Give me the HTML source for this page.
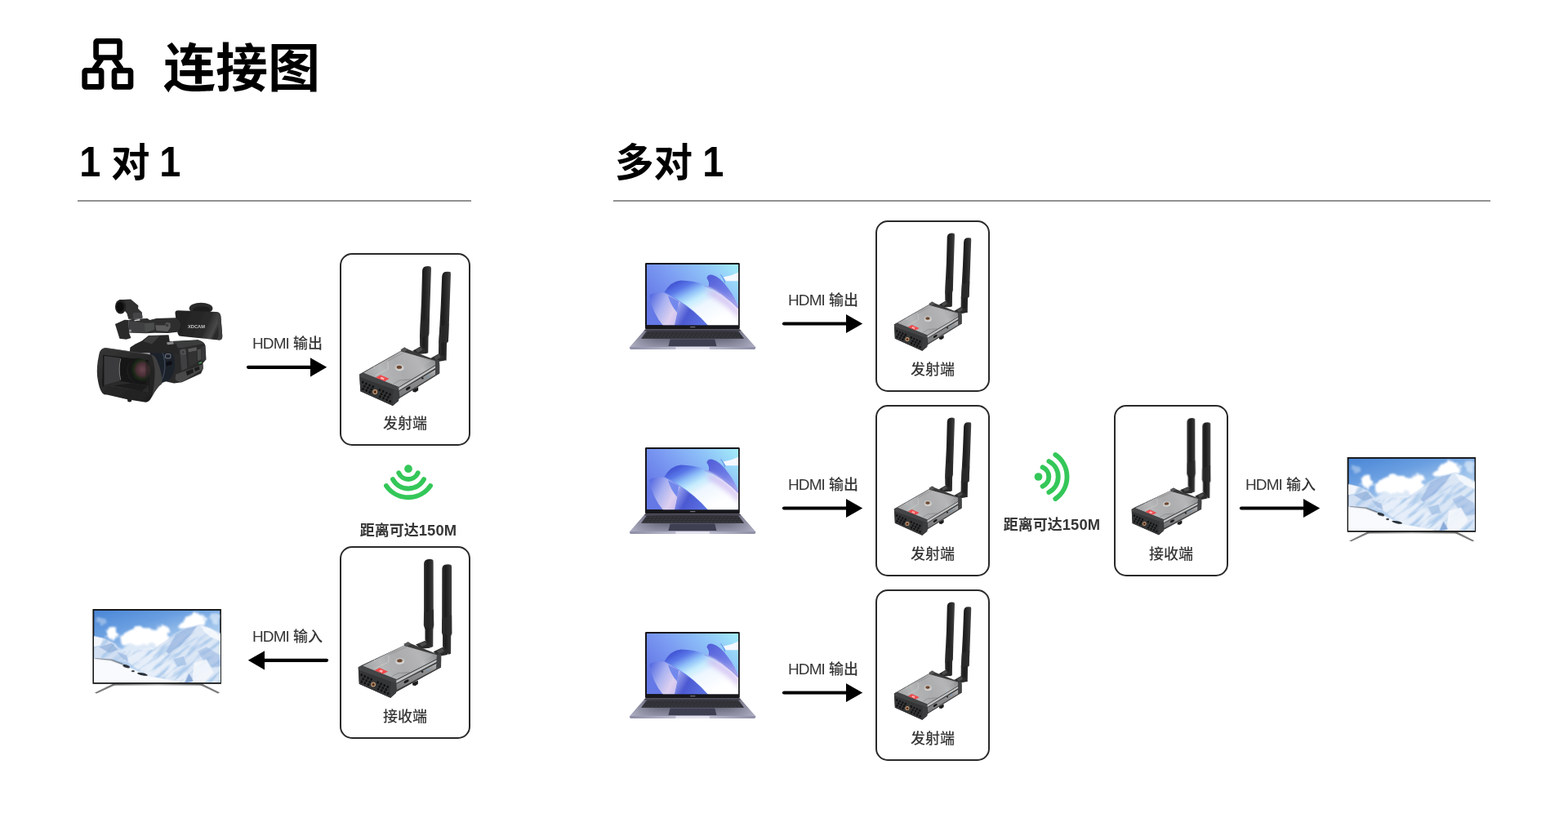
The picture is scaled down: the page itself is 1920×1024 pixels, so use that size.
<!DOCTYPE html>
<html lang="zh-CN">
<head>
<meta charset="utf-8">
<title>连接图</title>
<style>
html,body{margin:0;padding:0;background:#fff;}
body{width:1920px;height:1024px;position:relative;overflow:hidden;font-family:"Liberation Sans","Noto Sans CJK SC",sans-serif;color:#000;}
.abs{position:absolute;white-space:nowrap;line-height:1;will-change:transform;}
.lbl u{text-decoration:none;font-size:19px;letter-spacing:-.9px;}
.title{left:200px;top:52px;font-size:64px;font-weight:700;}
.h2{font-size:47.5px;font-weight:700;top:172px;}
.h2 b{font-size:52px;font-weight:700;display:inline-block;text-align:center;width:27px;transform:scaleX(.9);}
.h2 i{display:inline-block;width:11px;}
.rule{position:absolute;height:2px;background:#919191;top:245px;}
.box{position:absolute;box-sizing:border-box;border:2px solid #2a2a2a;border-radius:15px;background:#fff;}
.lbl{font-size:18px;color:#363636;text-align:center;font-weight:500;}
.dist{font-size:18px;font-weight:700;color:#363636;text-align:center;}
.dist u{text-decoration:none;font-size:18.4px;letter-spacing:.1px;}
svg{position:absolute;overflow:visible;}
</style>
</head>
<body>
<!-- header -->
<svg id="ico" style="left:100px;top:46px" width="64" height="64" viewBox="0 0 64 64">
  <g fill="none" stroke="#000" stroke-width="6.7" stroke-linejoin="round">
    <rect x="17.6" y="4.4" width="28.9" height="20.1" rx="1.2"/>
    <rect x="3.7" y="40.4" width="20.4" height="20" rx="1.2"/>
    <rect x="40" y="40.4" width="20" height="20" rx="1.2"/>
    <path d="M24.3 26 L15.5 38.5 M39.7 26 L48.5 38.5"/>
  </g>
</svg>
<div class="abs title">连接图</div>

<div class="abs h2" style="left:96px"><b>1</b><i style="width:13px"> </i>对<i style="width:10px"> </i><b>1</b></div>
<div class="rule" style="left:95px;width:482px"></div>
<div class="abs h2" style="left:753px">多对<i> </i><b>1</b></div>
<div class="rule" style="left:751px;width:1074px"></div>

<!-- boxes -->
<div class="box" style="left:416px;top:310px;width:160px;height:236px"></div>
<div class="box" style="left:416px;top:669px;width:160px;height:236px"></div>
<div class="box" style="left:1072px;top:270px;width:140px;height:210px"></div>
<div class="box" style="left:1072px;top:496px;width:140px;height:210px"></div>
<div class="box" style="left:1072px;top:722px;width:140px;height:210px"></div>
<div class="box" style="left:1364px;top:496px;width:140px;height:210px"></div>

<!-- labels -->
<div class="abs lbl" style="left:416px;width:160px;top:510px">发射端</div>
<div class="abs lbl" style="left:416px;width:160px;top:869px">接收端</div>
<div class="abs lbl" style="left:1072px;width:140px;top:444px">发射端</div>
<div class="abs lbl" style="left:1072px;width:140px;top:670px">发射端</div>
<div class="abs lbl" style="left:1072px;width:140px;top:896px">发射端</div>
<div class="abs lbl" style="left:1364px;width:140px;top:670px">接收端</div>

<div class="abs lbl" style="left:302px;width:100px;top:411px"><u>HDMI</u> 输出</div>
<div class="abs lbl" style="left:302px;width:100px;top:770px"><u>HDMI</u> 输入</div>
<div class="abs lbl" style="left:958px;width:100px;top:358px"><u>HDMI</u> 输出</div>
<div class="abs lbl" style="left:958px;width:100px;top:584px"><u>HDMI</u> 输出</div>
<div class="abs lbl" style="left:958px;width:100px;top:810px"><u>HDMI</u> 输出</div>
<div class="abs lbl" style="left:1518px;width:100px;top:584px"><u>HDMI</u> 输入</div>

<div class="abs dist" style="left:420px;width:160px;top:641px">距离可达<u>150M</u></div>
<div class="abs dist" style="left:1208px;width:160px;top:634px">距离可达<u>150M</u></div>

<!-- graphics layer -->
<svg id="gfx" style="left:0;top:0" width="1920" height="1024" viewBox="0 0 1920 1024">
  <defs>

    <linearGradient id="cHood" x1="0" y1="0" x2="1" y2="1">
      <stop offset="0" stop-color="#363636"/><stop offset="0.5" stop-color="#272727"/><stop offset="1" stop-color="#1c1c1c"/>
    </linearGradient>
    <linearGradient id="cLcd" x1="0" y1="0" x2="1" y2="0.3">
      <stop offset="0" stop-color="#1f1f1f"/><stop offset="0.75" stop-color="#2b2b2b"/><stop offset="0.93" stop-color="#4a4a4a"/><stop offset="1" stop-color="#2a2a2a"/>
    </linearGradient>
    <radialGradient id="cLens" cx="0.68" cy="0.45" r="0.62">
      <stop offset="0" stop-color="#6a4650"/><stop offset="0.4" stop-color="#4a2e36"/><stop offset="0.62" stop-color="#1c2a18"/><stop offset="0.85" stop-color="#121212"/><stop offset="1" stop-color="#1c1c1c"/>
    </radialGradient>
    <linearGradient id="cBody" x1="0" y1="0" x2="1" y2="1">
      <stop offset="0" stop-color="#222428"/><stop offset="0.5" stop-color="#303133"/><stop offset="1" stop-color="#232323"/>
    </linearGradient>
    <filter id="bl4" x="-5%" y="-5%" width="110%" height="110%"><feGaussianBlur stdDeviation="0.45"/></filter>
    <g id="cam" filter="url(#bl4)">
      <!-- right part: region [190,365,280,475] @9.311 -->
      <g transform="translate(190 365) scale(0.1074)">
        <ellipse cx="522" cy="118" rx="134" ry="64" fill="#2b2b2b"/>
        <ellipse cx="530" cy="135" rx="100" ry="40" fill="#1d1d1d"/>
        <!-- body -->
        <path d="M60 520 L130 495 L490 478 Q560 500 572 540 L582 700 L545 742 L548 805 L522 862 L305 962 L215 972 L90 945 L40 800 Z" fill="#2a2a2b"/>
        <path d="M150 500 L490 480 L560 520 L300 570 L200 560 Z" fill="#3b3c3d"/>
        <path d="M280 590 L350 575 L365 800 L300 830 Z" fill="#3f4042"/>
        <path d="M375 580 L470 560 L475 600 L380 620 Z" fill="#5a5b5c"/>
        <path d="M380 620 L470 600 L480 740 L385 790 Z" fill="#303132"/>
        <path d="M480 590 L520 580 L525 700 L485 720 Z" fill="#4a4b4c"/>
        <path d="M525 560 L570 545 L578 700 L530 720 Z" fill="#38393a"/>
        <path d="M235 870 L540 760 Q552 790 540 815 L305 960 Q240 960 228 920 Z" fill="#48494a"/>
        <path d="M350 838 L430 808 L440 850 L365 885 Z M445 800 L500 780 L508 815 L455 838 Z" fill="#1c1c1c"/>
        <path d="M496 738 L530 726 L532 740 L498 752 Z" fill="#3f9a55"/>
        <circle cx="318" cy="618" r="26" fill="none" stroke="#6a6b6c" stroke-width="7"/>
        <!-- lens barrel -->
        <path d="M-60 520 Q80 520 150 560 Q220 620 225 760 Q220 880 150 940 L60 975 L-60 900 Z" fill="#1a202a"/>
        <path d="M40 560 Q120 640 110 800 Q100 900 60 960" stroke="#3a4352" stroke-width="14" fill="none"/>
        <rect x="118" y="640" width="58" height="48" rx="8" fill="none" stroke="#7d828a" stroke-width="9"/>
        <path d="M120 730 L190 720 L195 760 L125 775 Z" fill="#0f1114"/>
        <!-- lcd box -->
        <path d="M228 172 Q228 142 258 142 L700 158 Q740 162 748 205 L766 430 Q768 482 725 480 L285 436 Q258 432 252 380 Z" fill="url(#cLcd)"/>
        <path d="M700 158 Q740 162 748 205 L766 430 Q768 482 725 480 L705 470 Q730 440 722 380 L708 200 Q706 170 690 160 Z" fill="#3e3e3e"/>
        <path d="M236 250 Q280 250 285 300 Q285 360 250 375 Z" fill="#3a3a3a"/>
      </g>
      <!-- top-left: region [130,360,230,430] @14.63 -->
      <g transform="translate(130 360) scale(0.06835)">
        <!-- support under handle -->
        <path d="M430 960 L520 900 L640 840 L760 745 L1120 735 L1140 860 L1260 900 L1300 1060 L420 1060 Z" fill="#262728"/>
        <path d="M660 850 L780 750 L960 745 L820 900 Z" fill="#3c3d3e"/>
        <path d="M1080 870 L1200 850 L1210 900 L1100 910 Z" fill="#8a8b8c"/>
        <!-- handle -->
        <path d="M780 468 L900 440 L1240 428 L1310 480 L1322 620 L1272 684 L1112 704 L870 700 L700 706 L412 694 L400 470 L480 450 L740 440 Z" fill="#2d2d2e"/>
        <path d="M410 480 L700 520 L860 515 L868 640 L700 700 L412 690 Z" fill="#404142"/>
        <path d="M690 530 L860 520 L866 640 L700 690 Z" fill="#4c4d4e"/>
        <path d="M880 560 L1050 565 L1075 512 L1150 522 L1152 600 L1102 672 L900 660 Z" fill="#5b5c5d"/>
        <circle cx="1092" cy="562" r="28" fill="#3a3a3a"/>
        <path d="M500 470 L600 455 L610 475 L510 488 Z" fill="#d8d8d8"/>
        <path d="M410 640 L450 640 L450 680 L410 680 Z" fill="#9a9a9a"/>
        <path d="M160 540 L330 465 L402 470 L412 700 L445 790 L360 815 L240 802 Z" fill="#2a2a2b"/>
        <!-- viewfinder -->
        <path d="M230 105 L440 96 L576 210 L572 262 L640 330 L652 432 L480 452 L400 450 L372 352 L330 300 Z" fill="#313132"/>
        <path d="M480 340 L640 332 L650 430 L480 450 Z" fill="#444546"/>
        <ellipse cx="258" cy="230" rx="98" ry="128" fill="#222223"/>
        <ellipse cx="250" cy="235" rx="66" ry="92" fill="#0e0e0e"/>
      </g>
      <!-- hood: region [112,415,212,500] @12.05 -->
      <g transform="translate(112 415) scale(0.08299)">
        <path d="M200 134 Q130 140 112 230 Q70 420 86 560 Q110 740 160 800 Q190 830 230 826 L530 895 L535 925 Q560 945 590 925 L592 905 L800 938 Q850 940 890 860 Q960 720 1040 660 Q1050 500 960 300 Q930 240 880 232 Z" fill="url(#cHood)"/>
        <path d="M880 232 Q930 240 960 300 Q1050 500 1040 660 Q960 720 890 860 Q930 700 935 500 Q930 320 880 232 Z" fill="#404041"/>
        <path d="M172 238 L845 318 L852 800 L740 772 L200 712 L160 700 Z" fill="#131313"/>
        <path d="M186 250 L420 280 L420 622 L186 690 Z" fill="#3b3b3c"/>
        <ellipse cx="690" cy="472" rx="175" ry="185" fill="url(#cLens)"/>
        <path d="M845 318 L852 700 L800 690 L800 330 Z" fill="#222" opacity=".5"/>
        <path d="M432 290 Q390 450 432 610" stroke="#7a7a7a" stroke-width="12" fill="none"/>
        <path d="M160 700 L420 622 L600 650 L845 690 L852 800 L740 772 L200 712 Z" fill="#2b2b2c"/>
        <path d="M330 690 L600 655 L840 700 L740 770 Z" fill="#1c1c1d"/>
        <path d="M200 136 L880 234" stroke="#4a4a4b" stroke-width="10" fill="none"/>
      </g>
    </g>
    <g id="camtxt" transform="translate(190 365) scale(0.1074)">
      <text x="470" y="342" font-family="'Liberation Sans',sans-serif" font-weight="700" font-size="46" fill="#c4c4c4" text-anchor="middle" textLength="196" lengthAdjust="spacingAndGlyphs">XDCAM</text>
    </g>

    <linearGradient id="tSky" x1="0" y1="0" x2="0.5" y2="1">
      <stop offset="0" stop-color="#4a86d6"/><stop offset="0.3" stop-color="#6a9fe1"/><stop offset="0.55" stop-color="#9fc4ec"/><stop offset="1" stop-color="#e6eff9"/>
    </linearGradient>
    <linearGradient id="tMt" x1="0.2" y1="0" x2="0.5" y2="1">
      <stop offset="0" stop-color="#e8f0fa"/><stop offset="0.2" stop-color="#a9c3e6"/><stop offset="0.55" stop-color="#b4cbea"/><stop offset="1" stop-color="#d4e2f4"/>
    </linearGradient>
    <linearGradient id="tBar" x1="0" y1="0" x2="1" y2="0">
      <stop offset="0" stop-color="#6a6a6a"/><stop offset="0.5" stop-color="#b8b8b8"/><stop offset="1" stop-color="#6a6a6a"/>
    </linearGradient>
    <filter id="bl2" x="-10%" y="-10%" width="120%" height="120%"><feGaussianBlur stdDeviation="7"/></filter>
    <filter id="bl3" x="-20%" y="-20%" width="140%" height="140%">
      <feTurbulence type="fractalNoise" baseFrequency="0.012" numOctaves="3" seed="7" result="n"/>
      <feDisplacementMap in="SourceGraphic" in2="n" scale="90" xChannelSelector="R" yChannelSelector="G"/>
      <feGaussianBlur stdDeviation="10"/>
    </filter>
    <filter id="tTex" x="0" y="0" width="100%" height="100%">
      <feTurbulence type="fractalNoise" baseFrequency="0.004 0.022" numOctaves="3" seed="11" result="n"/>
      <feColorMatrix in="n" type="matrix" values="0 0 0 0 0.42  0 0 0 0 0.60  0 0 0 0 0.84  3.6 0 0 0 -1.62" result="c"/>
      <feComposite in="c" in2="SourceGraphic" operator="in"/>
      <feGaussianBlur stdDeviation="3"/>
    </filter>
    <filter id="tTexW" x="0" y="0" width="100%" height="100%">
      <feTurbulence type="fractalNoise" baseFrequency="0.008 0.035" numOctaves="3" seed="23" result="n"/>
      <feColorMatrix in="n" type="matrix" values="0 0 0 0 1  0 0 0 0 1  0 0 0 0 1  0 4 0 0 -1.7" result="c"/>
      <feComposite in="c" in2="SourceGraphic" operator="in"/>
      <feGaussianBlur stdDeviation="3"/>
    </filter>
    <clipPath id="tMtClip"><path d="M48 345 L170 372 L290 430 L340 500 L420 520 L560 500 L720 500 L860 400 L960 320 L1110 245 L1270 212 L1400 265 L1485 320 L1485 872 L1070 872 L660 800 L400 680 L250 618 L48 600 Z"/></clipPath>
    <clipPath id="tscr"><rect x="48" y="54" width="1437" height="818"/></clipPath>
    <g id="tv" transform="translate(110 742) scale(0.107422)">
      <path d="M255 893 L310 893 L78 1000 L55 992 Z" fill="#7a7a7a"/>
      <path d="M1235 893 L1290 893 L1482 990 L1460 1000 Z" fill="#7a7a7a"/>
      <rect x="255" y="888" width="1035" height="20" fill="url(#tBar)"/>
      <rect x="32" y="38" width="1466" height="854" rx="4" fill="#141414"/>
      <g clip-path="url(#tscr)">
        <rect x="48" y="52" width="1437" height="820" fill="url(#tSky)"/>
        <g filter="url(#bl3)" fill="#fff">
          <ellipse cx="1200" cy="165" rx="130" ry="75"/>
          <ellipse cx="1100" cy="230" rx="80" ry="50"/>
          <ellipse cx="1420" cy="150" rx="60" ry="60" opacity=".5"/>
          <ellipse cx="620" cy="370" rx="290" ry="110"/>
          <ellipse cx="570" cy="290" rx="80" ry="60"/>
          <ellipse cx="830" cy="290" rx="80" ry="55"/>
          <ellipse cx="250" cy="320" rx="70" ry="80"/>
          <ellipse cx="130" cy="170" rx="60" ry="30" opacity=".35"/>
          <ellipse cx="700" cy="530" rx="420" ry="90" fill="#dde9f7"/>
        </g>
        <g filter="url(#bl2)">
          <path d="M30 340 L170 372 L290 430 L340 500 L440 640 L30 610 Z" fill="#d3e0f3"/>
          <path d="M420 520 L700 470 L860 560 L960 660 L1090 780 L1070 880 L660 800 L430 640 Z" fill="#e6eef9"/>
          <path d="M720 500 L860 400 L960 320 L1110 245 L1270 212 L1400 265 L1500 320 L1500 880 L1070 880 L1120 770 L960 650 L850 570 Z" fill="#dce7f6"/>
        </g>
        <g clip-path="url(#tMtClip)">
          <g transform="rotate(-40 1100 500)"><rect x="300" y="-200" width="1700" height="1500" fill="#000" filter="url(#tTex)"/></g>
        </g>
        <g filter="url(#bl2)">
          <path d="M980 330 L1110 255 L1220 232 L1150 330 L1030 450 L900 550 L870 520 Z" fill="#7fa4d8" opacity=".55"/>
          <path d="M1260 222 L1400 270 L1490 340 L1490 400 L1380 360 L1300 290 Z" fill="#f6f9fd" opacity=".9"/>
          <path d="M1230 520 L1330 470 L1480 560 L1490 690 L1400 700 L1300 630 Z" fill="#8fb0de" opacity=".5"/>
          <path d="M950 610 L1070 575 L1100 670 L1000 695 Z" fill="#9ebde4" opacity=".7"/>
          <path d="M1190 650 L1330 610 L1410 760 L1300 880 L1160 880 Z" fill="#f4f7fc" opacity=".9"/>
          <path d="M1080 880 L1130 770 L1180 860 Z" fill="#8aaad8"/>
          <path d="M30 345 L150 372 L120 450 L30 470 Z" fill="#f2f6fc"/>
          <path d="M110 470 L250 425 L320 500 L220 535 Z" fill="#86a6d6" opacity=".6"/>
          <path d="M310 530 L420 565 L440 640 L370 600 Z" fill="#9bb8e0" opacity=".7"/>
          <path d="M30 600 L250 618 L400 680 L660 800 L1080 880 L30 880 Z" fill="#f8fafd"/>
        </g>
        <g fill="#2a3038">
          <path d="M60 598 L250 612 L380 660 L370 672 L240 624 L60 606 Z" opacity=".6"/>
          <ellipse cx="415" cy="690" rx="42" ry="16" transform="rotate(20 415 690)"/>
          <ellipse cx="492" cy="745" rx="18" ry="10"/>
          <ellipse cx="600" cy="780" rx="60" ry="14" transform="rotate(12 600 780)"/>
        </g>
      </g>
    </g>
        <g filter="url(#bl2)">
          <path d="M720 500 L860 400 L960 320 L1110 245 L1270 212 L1400 265 L1500 320 L1500 880 L1070 880 L1120 770 L960 650 L850 570 Z" fill="url(#tMt)"/>
          <path d="M960 330 L1110 250 L1250 225 L1180 330 L1060 450 L900 560 L860 520 Z" fill="#6f98d0" opacity=".75"/>
          <path d="M1270 215 L1400 270 L1490 340 L1490 420 L1380 380 L1300 300 Z" fill="#f4f8fd" opacity=".9"/>
          <path d="M1160 480 L1300 420 L1480 520 L1490 700 L1380 740 L1240 650 Z" fill="#7fa6d8" opacity=".8"/>
          <path d="M960 620 L1100 570 L1120 680 L1000 700 Z" fill="#c9dbf1"/>
          <path d="M1180 640 L1330 600 L1420 760 L1300 880 L1150 880 Z" fill="#eef4fb"/>
          <path d="M1080 880 L1130 760 L1190 860 Z" fill="#7fa2d4"/>
          <path d="M30 340 L170 372 L290 430 L340 500 L440 640 L30 610 Z" fill="#a8c2e6"/>
          <path d="M30 345 L150 372 L120 450 L30 470 Z" fill="#f2f6fc"/>
          <path d="M100 470 L260 430 L330 500 L220 540 Z" fill="#7e9fd0" opacity=".8"/>
          <path d="M420 520 L700 470 L860 560 L960 660 L1090 780 L1070 880 L660 800 L430 640 Z" fill="#dfe9f7"/>
          <path d="M480 620 L640 590 L700 660 L560 690 Z" fill="#b4cdea"/>
          <path d="M30 600 L250 618 L400 680 L660 800 L1080 880 L30 880 Z" fill="#f6f8fc"/>
        </g>
        <g fill="#2a3038">
          <path d="M60 598 L250 612 L380 660 L370 672 L240 624 L60 606 Z" opacity=".6"/>
          <ellipse cx="415" cy="690" rx="42" ry="16" transform="rotate(20 415 690)"/>
          <ellipse cx="492" cy="745" rx="18" ry="10"/>
          <ellipse cx="600" cy="780" rx="60" ry="14" transform="rotate(12 600 780)"/>
        </g>
      </g>
    </g>

    <linearGradient id="wBg" x1="0" y1="0.6" x2="1" y2="0">
      <stop offset="0" stop-color="#6478e6"/><stop offset="0.35" stop-color="#7b9af2"/><stop offset="0.7" stop-color="#8fc4f8"/><stop offset="1" stop-color="#a4eef8"/>
    </linearGradient>
    <linearGradient id="wA" gradientUnits="userSpaceOnUse" x1="560" y1="270" x2="900" y2="900">
      <stop offset="0" stop-color="#4458d6"/><stop offset="0.14" stop-color="#5a78e8"/><stop offset="0.3" stop-color="#8fc0f8"/><stop offset="0.45" stop-color="#c4ecfd"/><stop offset="0.62" stop-color="#eef6ff"/><stop offset="1" stop-color="#ffffff"/>
    </linearGradient>
    <filter id="bl1b" x="-30%" y="-30%" width="160%" height="160%"><feGaussianBlur stdDeviation="40"/></filter>
    <linearGradient id="wB" x1="0" y1="0.2" x2="1" y2="0.8">
      <stop offset="0" stop-color="#5a6ee2"/><stop offset="0.4" stop-color="#a9b2f0"/><stop offset="0.75" stop-color="#ddd0f0"/><stop offset="1" stop-color="#cbbfee"/>
    </linearGradient>
    <linearGradient id="wC" x1="0" y1="0" x2="1" y2="0.4">
      <stop offset="0" stop-color="#f2f4ff"/><stop offset="0.2" stop-color="#8c96ea"/><stop offset="0.5" stop-color="#4c59d2"/><stop offset="1" stop-color="#5a6fe0"/>
    </linearGradient>
    <linearGradient id="wE" x1="0" y1="0" x2="1" y2="1">
      <stop offset="0" stop-color="#4f5bd6"/><stop offset="0.5" stop-color="#6e7de6"/><stop offset="1" stop-color="#b9b4f0"/>
    </linearGradient>
    <linearGradient id="lDeck" x1="0" y1="0" x2="0" y2="1">
      <stop offset="0" stop-color="#545464"/><stop offset="0.45" stop-color="#666678"/><stop offset="0.85" stop-color="#9292a8"/><stop offset="1" stop-color="#acacc0"/>
    </linearGradient>
    <linearGradient id="lDeck2" x1="0" y1="0" x2="1" y2="0">
      <stop offset="0" stop-color="#b4b4c8" stop-opacity=".9"/><stop offset="0.22" stop-color="#8c8ca2" stop-opacity=".2"/><stop offset="0.5" stop-color="#50505e" stop-opacity=".0"/><stop offset="0.78" stop-color="#8c8ca2" stop-opacity=".2"/><stop offset="1" stop-color="#b4b4c8" stop-opacity=".9"/>
    </linearGradient>
    <linearGradient id="lLip" x1="0" y1="0" x2="1" y2="0">
      <stop offset="0" stop-color="#8e8ea6"/><stop offset="0.36" stop-color="#b9b9cc"/><stop offset="0.37" stop-color="#e2e2ee"/><stop offset="0.63" stop-color="#e2e2ee"/><stop offset="0.64" stop-color="#b9b9cc"/><stop offset="1" stop-color="#8e8ea6"/>
    </linearGradient>
    <filter id="bl1" x="-10%" y="-10%" width="120%" height="120%"><feGaussianBlur stdDeviation="7"/></filter>
    <clipPath id="scr"><rect x="45" y="68" width="1275" height="844"/></clipPath>
    <g id="lap">
      <!-- base: zoom coords of region [760,310,940,440] @7.878 -->
      <g transform="translate(760 310) scale(0.126937)">
        <path d="M237 736 L1150 736 L1300 908 Q1302 930 1285 930 L103 930 Q86 930 88 908 Z" fill="url(#lDeck)"/>
        <path d="M237 736 L1150 736 L1300 908 Q1302 930 1285 930 L103 930 Q86 930 88 908 Z" fill="url(#lDeck2)"/>
        <path d="M237 736 L1150 736 L1160 750 L227 750 Z" fill="#3c3c48"/>
        <path d="M252 752 L1135 752 L1190 826 L198 826 Z" fill="#2c2c32"/>
        <path d="M240 770 H1148 M228 790 H1160 M214 810 H1174" stroke="#4c4c56" stroke-width="5" fill="none" stroke-dasharray="30 8"/>
        <path d="M478 832 L908 832 L925 898 L460 898 Z" fill="#3f3f52"/>
        <path d="M90 906 L1298 906 Q1302 930 1285 930 L103 930 Q86 930 90 906 Z" fill="url(#lLip)"/>
      </g>
      <!-- lid: zoom coords of region [788,318,908,408] @11.375 -->
      <g transform="translate(788 318) scale(0.087912)">
        <rect x="22" y="45" width="1318" height="925" rx="16" fill="#17171c"/>
        <g clip-path="url(#scr)">
          <rect x="45" y="68" width="1275" height="844" fill="url(#wBg)"/>
          <g filter="url(#bl1)">
            <path d="M1110 245 Q1230 225 1340 170 L1340 300 Q1240 300 1150 300 Z" fill="#f4f8ff"/>
            <path d="M1075 210 Q1120 260 1135 320" stroke="#5a7ae6" stroke-width="10" fill="none"/>
            <path d="M880 260 Q890 200 960 212 Q1070 240 1180 400 Q1290 540 1340 720 L1340 760 L900 380 Q930 320 880 260 Z" fill="url(#wE)"/>
            <path d="M80 500 Q120 450 290 462 L490 580 L470 740 L430 930 L280 930 Q120 740 80 500 Z" fill="url(#wB)"/>
            <path d="M340 500 L490 580 L470 740 Q380 640 340 500 Z" fill="#7288ec"/>
            <path d="M490 580 Q700 700 910 930 L430 930 Q480 760 490 580 Z" fill="url(#wC)"/>
            <path d="M290 455 Q380 300 520 290 Q700 290 880 360 Q1100 450 1340 700 L1340 930 L910 930 Q700 690 490 570 Q400 500 290 455 Z" fill="url(#wA)"/>
            <path d="M900 400 Q1120 480 1340 720 L1340 820 Q1150 600 880 470 Z" fill="#cdb9f0" filter="url(#bl1b)"/>
            <path d="M850 362 Q1100 445 1340 695" stroke="#8d8ee6" stroke-width="14" fill="none" opacity=".7"/>
          </g>
        </g>
        <rect x="650" y="932" width="70" height="14" fill="#8a8a92" opacity=".8"/>
      </g>
    </g>

    <linearGradient id="gTop" x1="0" y1="0.6" x2="1" y2="0.3">
      <stop offset="0" stop-color="#a2a3a4"/><stop offset="0.25" stop-color="#b6b7b8"/><stop offset="0.5" stop-color="#a2a3a4"/><stop offset="0.78" stop-color="#b8b9ba"/><stop offset="1" stop-color="#8e8f90"/>
    </linearGradient>
    <linearGradient id="gSide" x1="0" y1="0" x2="0" y2="1">
      <stop offset="0" stop-color="#b9babb"/><stop offset="0.25" stop-color="#8f9091"/><stop offset="1" stop-color="#77787a"/>
    </linearGradient>
    <linearGradient id="gAnt" x1="0" y1="0" x2="1" y2="0">
      <stop offset="0" stop-color="#303030"/><stop offset="0.35" stop-color="#1c1c1c"/><stop offset="0.7" stop-color="#2e2e2e"/><stop offset="1" stop-color="#454545"/>
    </linearGradient>
    <g id="devL">
      <g transform="translate(490 318) scale(0.126984)">
        <path d="M213 105 Q216 74 240 66 Q270 60 292 66 Q300 70 299 90 L284 540 L279 715 L272 745 L270 900 L243 908 L190 830 L189 735 L196 580 L205 400 Z" fill="url(#gAnt)"/>
        <path d="M403 165 Q406 128 432 119 Q460 113 482 119 Q489 124 488 142 L472 590 L464 790 L449 805 L446 972 L424 972 L370 905 L372 790 L381 640 L392 440 Z" fill="url(#gAnt)"/>
        <path d="M196 600 L279 560 L276 720 L190 760 Z" fill="#2a2a2a" opacity=".7"/>
        <path d="M382 650 L470 615 L464 790 L372 810 Z" fill="#2c2c2c" opacity=".7"/>
        <path d="M120 880 L200 835 L245 860 L245 905 L160 915 Z" fill="#2a2a2a"/>
        <path d="M150 870 L200 842 L215 872 L168 900 Z" fill="#4a4a4a"/>
        <path d="M295 950 L375 905 L425 930 L425 975 L330 990 Z" fill="#2a2a2a"/>
        <path d="M325 942 L375 912 L392 942 L345 972 Z" fill="#4a4a4a"/>
      </g>
      <g transform="translate(430 410) scale(0.092791)">
        <path d="M810 725 L885 690 L885 735 L850 760 L815 755 Z" fill="#1c1c1c"/>
        <path d="M108 522 L150 498 L655 212 L702 166 L748 192 L1108 332 L1162 338 L1167 402 L1166 512 L640 838 L548 937 L122 745 Z" fill="#3a3a3b"/>
        <path d="M160 503 L655 218 L700 232 L1108 345 L1112 400 L628 690 Z" fill="url(#gTop)"/>
          <path d="M480 350 L700 232 L1050 350 L930 430 L860 520 L790 590 L640 600 L500 560 L470 450 Z" fill="#b2b3b4" opacity=".55"/>
          <path d="M480 350 L490 450 L320 540" fill="none" stroke="#cfd0d1" stroke-width="9" opacity=".8"/>
          <path d="M480 350 L700 235" fill="none" stroke="#8a8b8c" stroke-width="7" opacity=".7"/>
          <path d="M560 650 L640 600 L790 590" fill="none" stroke="#7c7d7e" stroke-width="8" opacity=".8"/>
          <path d="M300 400 L310 450" fill="none" stroke="#d8d8d8" stroke-width="6" opacity=".8"/>
          <path d="M650 197 L702 166 L748 192 L700 228 Z" fill="#555657"/>
          <path d="M325 566 L386 530 L502 580 L440 617 Z" fill="#ee4a4c"/>
          <text x="413" y="590" font-family="'Liberation Sans',sans-serif" font-weight="700" font-size="40" fill="#fff" text-anchor="middle" transform="rotate(23 413 575)">4K</text>
          <ellipse cx="638" cy="432" rx="68" ry="50" fill="#b5b6b7"/>
          <ellipse cx="638" cy="440" rx="56" ry="38" fill="#d8d8d8"/>
          <ellipse cx="634" cy="428" rx="50" ry="34" fill="#c9c4bf"/>
          <ellipse cx="634" cy="428" rx="34" ry="22" fill="#6b4630"/>
        <path d="M110 523 L160 503 L628 690 L624 745 L112 560 Z" fill="#444546"/>
          <path d="M112 558 L624 745 L626 872 L548 937 L122 745 Z" fill="#343536"/>
          <path d="M548 800 L560 720 L626 745 L626 872 L548 937 Z" fill="#3c3d3e"/>
          <g fill="#121212"><ellipse cx="153" cy="626" rx="15" ry="18"/><ellipse cx="198" cy="646" rx="15" ry="18"/><ellipse cx="242" cy="667" rx="15" ry="18"/><ellipse cx="287" cy="687" rx="15" ry="18"/><ellipse cx="377" cy="728" rx="15" ry="18"/><ellipse cx="421" cy="748" rx="15" ry="18"/><ellipse cx="466" cy="769" rx="15" ry="18"/><ellipse cx="511" cy="789" rx="15" ry="18"/><ellipse cx="176" cy="680" rx="15" ry="18"/><ellipse cx="221" cy="701" rx="15" ry="18"/><ellipse cx="265" cy="721" rx="15" ry="18"/><ellipse cx="400" cy="783" rx="15" ry="18"/><ellipse cx="444" cy="803" rx="15" ry="18"/><ellipse cx="489" cy="824" rx="15" ry="18"/><ellipse cx="156" cy="716" rx="15" ry="18"/><ellipse cx="201" cy="736" rx="15" ry="18"/><ellipse cx="246" cy="757" rx="15" ry="18"/><ellipse cx="380" cy="818" rx="15" ry="18"/><ellipse cx="425" cy="838" rx="15" ry="18"/><ellipse cx="470" cy="859" rx="15" ry="18"/><ellipse cx="514" cy="879" rx="15" ry="18"/></g>
          <circle cx="315" cy="755" r="32" fill="#c9a27e"/><circle cx="315" cy="755" r="21" fill="#7a4a2c"/><circle cx="315" cy="757" r="11" fill="#3a2418"/>
        <path d="M632 745 L1112 462 L1112 528 L640 822 Z" fill="url(#gSide)"/>
          <path d="M628 700 L1112 410 L1112 440 L630 735 Z" fill="#c2c3c4"/>
          <path d="M1112 340 L1164 340 L1166 510 L1112 540 Z" fill="#434445"/>
          <path d="M722 722 Q722 705 740 696 L762 684 Q782 676 782 694 Q782 710 764 720 L742 732 Q722 740 722 722 Z" fill="#1a1a1a"/>
          <circle cx="942" cy="575" r="13" fill="#222"/>
          <circle cx="1008" cy="548" r="8" fill="#5aa8f0"/>
      </g>
    </g>
    <g id="devR">
      <g transform="translate(490 677) scale(0.126984)">
        <path d="M229 105 Q231 74 255 66 Q288 58 312 66 Q321 70 320 90 L321 540 L325 700 L318 745 L317 905 L292 915 L240 840 L240 740 L227 700 L229 560 Z" fill="url(#gAnt)"/>
        <path d="M404 155 Q406 124 430 116 Q465 108 488 116 Q498 120 497 140 L497 600 L499 780 L490 805 L489 975 L465 982 L410 905 L410 800 L401 770 L403 620 Z" fill="url(#gAnt)"/>
        <path d="M228 580 L324 545 L324 700 L300 745 L228 700 Z" fill="#2a2a2a" opacity=".7"/>
        <path d="M402 640 L498 600 L498 780 L470 805 L402 770 Z" fill="#2c2c2c" opacity=".7"/>
        <path d="M150 885 L240 848 L290 872 L288 920 L200 928 Z" fill="#2a2a2a"/>
        <path d="M185 876 L240 855 L255 885 L205 908 Z" fill="#4a4a4a"/>
        <path d="M320 955 L410 912 L458 936 L456 985 L368 1000 Z" fill="#2a2a2a"/>
        <path d="M352 948 L408 920 L425 950 L375 978 Z" fill="#4a4a4a"/>
      </g>
      <g transform="translate(430 769) scale(0.092791)">
        <path d="M808 728 L882 695 L882 740 L848 765 L812 760 Z" fill="#1c1c1c"/>
        <path d="M93 520 L135 496 L700 232 L750 185 L798 212 L1130 345 L1185 352 L1188 420 L1186 522 L602 842 L520 925 L105 740 Z" fill="#3a3a3b"/>
        <g transform="matrix(1.0114 0.0070 -0.1444 0.9478 61.44 23.66)">
          <path d="M160 503 L655 218 L700 232 L1108 345 L1112 400 L628 690 Z" fill="url(#gTop)"/>
          <path d="M480 350 L700 232 L1050 350 L930 430 L860 520 L790 590 L640 600 L500 560 L470 450 Z" fill="#b2b3b4" opacity=".55"/>
          <path d="M480 350 L490 450 L320 540" fill="none" stroke="#cfd0d1" stroke-width="9" opacity=".8"/>
          <path d="M480 350 L700 235" fill="none" stroke="#8a8b8c" stroke-width="7" opacity=".7"/>
          <path d="M560 650 L640 600 L790 590" fill="none" stroke="#7c7d7e" stroke-width="8" opacity=".8"/>
          <path d="M300 400 L310 450" fill="none" stroke="#d8d8d8" stroke-width="6" opacity=".8"/>
          <path d="M650 197 L702 166 L748 192 L700 228 Z" fill="#555657"/>
          <path d="M325 566 L386 530 L502 580 L440 617 Z" fill="#ee4a4c"/>
          <text x="413" y="590" font-family="'Liberation Sans',sans-serif" font-weight="700" font-size="40" fill="#fff" text-anchor="middle" transform="rotate(23 413 575)">4K</text>
          <ellipse cx="638" cy="432" rx="68" ry="50" fill="#b5b6b7"/>
          <ellipse cx="638" cy="440" rx="56" ry="38" fill="#d8d8d8"/>
          <ellipse cx="634" cy="428" rx="50" ry="34" fill="#c9c4bf"/>
          <ellipse cx="634" cy="428" rx="34" ry="22" fill="#6b4630"/>
        </g>
        <g transform="matrix(0.9667 -0.0108 -0.0013 0.9874 -11.11 5.75)">
          <path d="M110 523 L160 503 L628 690 L624 745 L112 560 Z" fill="#444546"/>
          <path d="M112 558 L624 745 L626 872 L548 937 L122 745 Z" fill="#343536"/>
          <path d="M548 800 L560 720 L626 745 L626 872 L548 937 Z" fill="#3c3d3e"/>
          <g fill="#121212"><ellipse cx="153" cy="626" rx="15" ry="18"/><ellipse cx="198" cy="646" rx="15" ry="18"/><ellipse cx="242" cy="667" rx="15" ry="18"/><ellipse cx="287" cy="687" rx="15" ry="18"/><ellipse cx="377" cy="728" rx="15" ry="18"/><ellipse cx="421" cy="748" rx="15" ry="18"/><ellipse cx="466" cy="769" rx="15" ry="18"/><ellipse cx="511" cy="789" rx="15" ry="18"/><ellipse cx="176" cy="680" rx="15" ry="18"/><ellipse cx="221" cy="701" rx="15" ry="18"/><ellipse cx="265" cy="721" rx="15" ry="18"/><ellipse cx="400" cy="783" rx="15" ry="18"/><ellipse cx="444" cy="803" rx="15" ry="18"/><ellipse cx="489" cy="824" rx="15" ry="18"/><ellipse cx="156" cy="716" rx="15" ry="18"/><ellipse cx="201" cy="736" rx="15" ry="18"/><ellipse cx="246" cy="757" rx="15" ry="18"/><ellipse cx="380" cy="818" rx="15" ry="18"/><ellipse cx="425" cy="838" rx="15" ry="18"/><ellipse cx="470" cy="859" rx="15" ry="18"/><ellipse cx="514" cy="879" rx="15" ry="18"/></g>
          <circle cx="315" cy="755" r="32" fill="#c9a27e"/><circle cx="315" cy="755" r="21" fill="#7a4a2c"/><circle cx="315" cy="757" r="11" fill="#3a2418"/>
        </g>
        <g transform="matrix(1.0785 0.0338 -0.0433 1.0068 -51.99 -30.71)">
          <path d="M632 745 L1112 462 L1112 528 L640 822 Z" fill="url(#gSide)"/>
          <path d="M628 700 L1112 410 L1112 440 L630 735 Z" fill="#c2c3c4"/>
          <path d="M1112 340 L1164 340 L1166 510 L1112 540 Z" fill="#434445"/>
          <path d="M722 722 Q722 705 740 696 L762 684 Q782 676 782 694 Q782 710 764 720 L742 732 Q722 740 722 722 Z" fill="#1a1a1a"/>
          <circle cx="942" cy="575" r="13" fill="#222"/>
          <circle cx="1008" cy="548" r="8" fill="#5aa8f0"/>
        </g>
      </g>
    </g>
    <g id="arrow">
      <path d="M2 0 H80" stroke="#000" stroke-width="4.2" stroke-linecap="round" fill="none"/>
      <path d="M78 -11.6 L98.2 0 L78 11.6 Z" fill="#000"/>
    </g>
    <g id="wifi" fill="none" stroke="#34c759" stroke-width="5.9" stroke-linecap="round">
      <circle cx="0" cy="0" r="4.85" fill="#34c759" stroke="none"/>
      <path d="M5.1 -11.7 A12.75 12.75 0 0 1 5.1 11.7"/>
      <path d="M12.9 -19 A21.6 21.6 0 0 1 12.9 19"/>
      <path d="M20.85 -27 A32.8 32.8 0 0 1 20.85 27"/>
    </g>
  </defs>


  <use href="#lap"/>
  <use href="#lap" transform="translate(0,226)"/>
  <use href="#lap" transform="translate(0,452)"/>

  <use href="#tv"/>
  <use href="#tv" transform="translate(1536.2,-186.1)"/>

  <use href="#cam"/>
  <use href="#camtxt"/>
  <use href="#devL"/>
  <use href="#devR"/>
  <use href="#devL" transform="translate(723.5,10.55) scale(0.84375)"/>
  <use href="#devL" transform="translate(723.5,236.55) scale(0.84375)"/>
  <use href="#devL" transform="translate(723.5,462.55) scale(0.84375)"/>
  <use href="#devR" transform="translate(1015.5,-65.9) scale(0.84375)"/>
  <use href="#arrow" transform="translate(302,449.8)"/>
  <use href="#arrow" transform="translate(402,808.8) scale(-1,1)"/>
  <use href="#arrow" transform="translate(958,396.5)"/>
  <use href="#arrow" transform="translate(958,622.5)"/>
  <use href="#arrow" transform="translate(958,848.5)"/>
  <use href="#arrow" transform="translate(1518,622.5)"/>
  <use href="#wifi" transform="translate(500,574.2) rotate(90)"/>
  <use href="#wifi" transform="translate(1271.5,584)"/>
</svg>
</body>
</html>
